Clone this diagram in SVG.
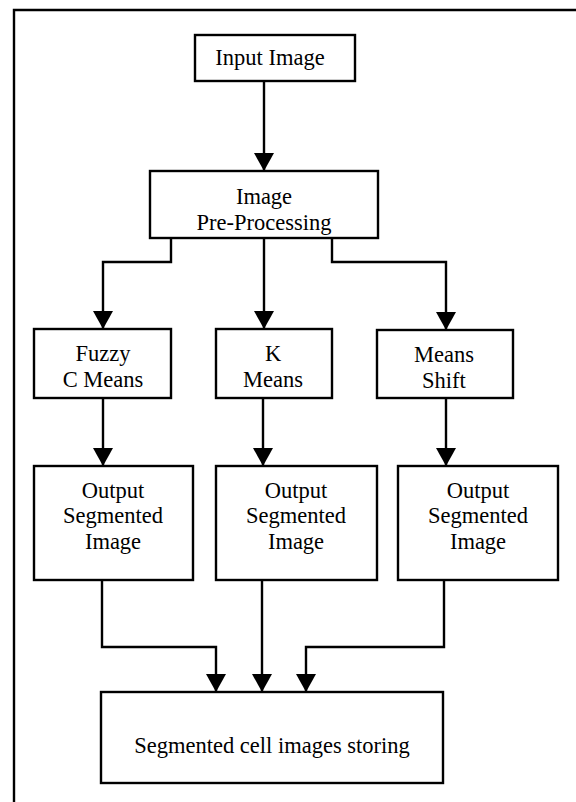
<svg xmlns="http://www.w3.org/2000/svg" width="576" height="802" viewBox="0 0 576 802">
<style>
.box{fill:#fff;stroke:#000;stroke-width:2.4}
.t{font-family:"Liberation Serif","Times New Roman",serif;font-size:22.5px;fill:#000;text-anchor:middle}
.c{fill:none;stroke:#000;stroke-width:2.4}
</style>
<defs>
<marker id="ah" markerWidth="20" markerHeight="18" refX="10" refY="18" orient="0" markerUnits="userSpaceOnUse" viewBox="0 0 20 18">
<path d="M0,0 L20,0 L10,18 Z" fill="#000"/>
</marker>
</defs>
<path d="M14,802 V10 H576" fill="none" stroke="#000" stroke-width="2.4"/>
<g id="input"><rect class="box" x="195" y="35" width="160" height="46"/><text class="t" x="270" y="65">Input Image</text></g>
<g id="preproc"><rect class="box" x="150" y="171" width="228" height="67"/><text class="t" x="264" y="204">Image</text><text class="t" x="264" y="230">Pre-Processing</text></g>
<g id="fcm"><rect class="box" x="34" y="329" width="137" height="69"/><text class="t" x="103" y="361">Fuzzy</text><text class="t" x="103" y="387">C Means</text></g>
<g id="km"><rect class="box" x="216" y="329" width="116" height="69"/><text class="t" x="273" y="361">K</text><text class="t" x="273" y="387">Means</text></g>
<g id="ms"><rect class="box" x="377" y="330" width="136" height="68"/><text class="t" x="444" y="362">Means</text><text class="t" x="444" y="388">Shift</text></g>
<g id="out1"><rect class="box" x="34" y="466" width="159" height="114"/><text class="t" x="113" y="498">Output</text><text class="t" x="113" y="523">Segmented</text><text class="t" x="113" y="549">Image</text></g>
<g id="out2"><rect class="box" x="216" y="466" width="161" height="114"/><text class="t" x="296" y="498">Output</text><text class="t" x="296" y="523">Segmented</text><text class="t" x="296" y="549">Image</text></g>
<g id="out3"><rect class="box" x="398" y="466" width="160" height="114"/><text class="t" x="478" y="498">Output</text><text class="t" x="478" y="523">Segmented</text><text class="t" x="478" y="549">Image</text></g>
<g id="store"><rect class="box" x="101" y="692" width="342" height="91"/><text class="t" x="272" y="753">Segmented cell images storing</text></g>
<g id="connectors">
<path class="c" d="M264,81 V171" marker-end="url(#ah)"/>
<path class="c" d="M171,238 V262 H103 V329" marker-end="url(#ah)"/>
<path class="c" d="M264,238 V329" marker-end="url(#ah)"/>
<path class="c" d="M332,238 V262 H446 V330" marker-end="url(#ah)"/>
<path class="c" d="M103,398 V466" marker-end="url(#ah)"/>
<path class="c" d="M263,398 V466" marker-end="url(#ah)"/>
<path class="c" d="M446,398 V466" marker-end="url(#ah)"/>
<path class="c" d="M102,580 V647 H216 V692" marker-end="url(#ah)"/>
<path class="c" d="M262,580 V692" marker-end="url(#ah)"/>
<path class="c" d="M444,580 V647 H306 V692" marker-end="url(#ah)"/>
</g>
</svg>
